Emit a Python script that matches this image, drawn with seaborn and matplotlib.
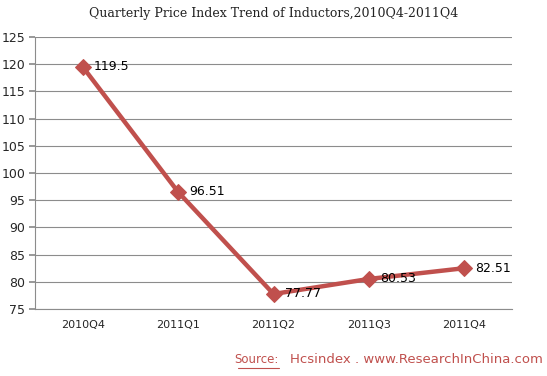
import matplotlib
matplotlib.use("Agg")
import matplotlib.pyplot as plt
import seaborn as sns
import pandas as pd
import numpy as np

quarters = ["2010Q4", "2011Q1", "2011Q2", "2011Q3", "2011Q4"]
values = [119.5, 96.51, 77.77, 80.53, 82.51]
labels = ["119.5", "96.51", "77.77", "80.53", "82.51"]
yticks = [75, 80, 85, 90, 95, 100, 105, 110, 115, 120, 125]

sns.set_theme(style="white")
plt.rcParams['font.family'] = ['DejaVu Sans']

df = pd.DataFrame({"q": np.arange(len(quarters)), "v": values})

fig = plt.figure(figsize=(5.47, 3.76), dpi=100)
ax = fig.add_axes([0.064, 0.178, 0.872, 0.724])

color = "#C0504D"
sns.lineplot(data=df, x="q", y="v", ax=ax, color=color, linewidth=3.2,
             marker="D", markersize=8, markeredgecolor=color, zorder=3)

ax.set_xlim(-0.5, len(quarters) - 0.5)
ax.set_ylim(75, 125)
ax.set_yticks(yticks)
ax.set_yticklabels([str(t) for t in yticks], fontsize=9)
ax.yaxis.grid(True, color="#8c8c8c", linewidth=0.8)
ax.set_axisbelow(True)

ax.set_xticks(np.arange(len(quarters)))
ax.set_xticklabels(quarters, fontsize=8)
ax.set_xticks(np.arange(len(quarters) + 1) - 0.5, minor=True)
ax.tick_params(axis="x", which="major", length=0, pad=8)
ax.tick_params(axis="x", which="minor", length=4, color="#8c8c8c", direction="out")
ax.tick_params(axis="y", length=4, color="#8c8c8c", direction="out", left=True, pad=3)
ax.set_xlabel("")
ax.set_ylabel("")

for s in ["top", "right"]:
    ax.spines[s].set_visible(False)
for s in ["left", "bottom"]:
    ax.spines[s].set_color("#8c8c8c")
    ax.spines[s].set_linewidth(0.8)

for i, (v, lab) in enumerate(zip(values, labels)):
    ax.annotate(lab, (i, v), xytext=(8, 0), textcoords="offset points",
                ha="left", va="center", fontsize=9, color="black", zorder=4)

fig.text(0.5, 0.965, "Quarterly Price Index Trend of Inductors,2010Q4-2011Q4",
         ha="center", va="center", fontsize=9, family="DejaVu Serif", color="#222222")

fig.text(0.51, 0.043, "Source:", ha="right", va="center", fontsize=8.5,
         color="#C0504D")
fig.text(0.993, 0.043, "Hcsindex . www.ResearchInChina.com", ha="right", va="center",
         fontsize=9.5, color="#C0504D")
fig.lines.append(plt.Line2D([0.435, 0.51], [0.022, 0.022], transform=fig.transFigure,
                            color="#C0504D", linewidth=0.8))

fig.savefig("out.png", dpi=100)
